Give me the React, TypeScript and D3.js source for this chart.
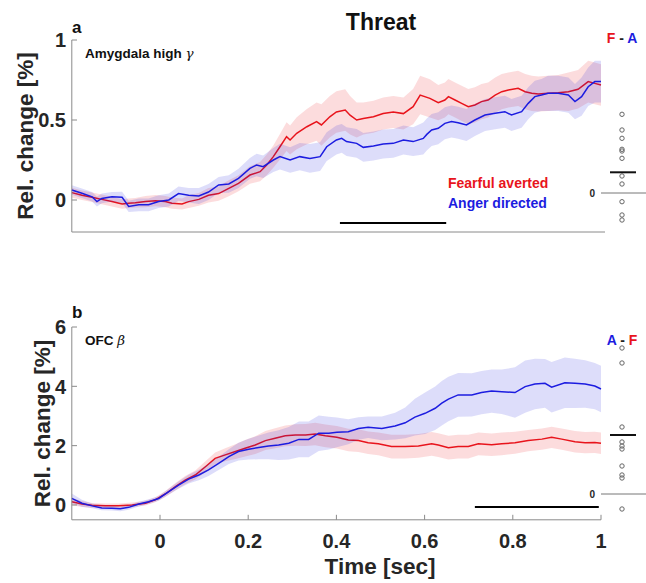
import React from 'react';
import * as d3 from 'd3';

// [time (s), mean (%), half-width of shaded band (%)]
const amyFearful: [number, number, number][] = [
  [-0.2, 0.046, 0.03], [-0.177, 0.03, 0.03], [-0.154, 0.017, 0.03], [-0.132, 0.004, 0.03],
  [-0.109, -0.01, 0.03], [-0.086, -0.025, 0.03], [-0.071, -0.02, 0.03], [-0.056, -0.017, 0.03],
  [-0.033, -0.01, 0.035], [-0.01, -0.004, 0.035], [0.012, -0.01, 0.035], [0.027, -0.02, 0.035],
  [0.05, -0.025, 0.035], [0.065, -0.01, 0.04], [0.088, 0.004, 0.04], [0.11, 0.03, 0.045],
  [0.133, 0.04, 0.045], [0.156, 0.073, 0.05], [0.178, 0.104, 0.05], [0.204, 0.156, 0.055],
  [0.227, 0.177, 0.06], [0.242, 0.219, 0.065], [0.257, 0.271, 0.07], [0.272, 0.333, 0.08],
  [0.287, 0.396, 0.09], [0.295, 0.375, 0.09], [0.31, 0.417, 0.1], [0.333, 0.458, 0.11],
  [0.355, 0.49, 0.12], [0.366, 0.469, 0.13], [0.385, 0.52, 0.13], [0.4, 0.55, 0.13],
  [0.42, 0.5625, 0.13], [0.431, 0.53, 0.12], [0.446, 0.5, 0.11], [0.461, 0.51, 0.1],
  [0.484, 0.52, 0.1], [0.506, 0.54, 0.1], [0.529, 0.55, 0.1], [0.552, 0.54, 0.1],
  [0.574, 0.583, 0.11], [0.59, 0.656, 0.12], [0.612, 0.635, 0.12], [0.631, 0.608, 0.11],
  [0.646, 0.625, 0.11], [0.654, 0.646, 0.11], [0.669, 0.625, 0.11], [0.684, 0.604, 0.11],
  [0.699, 0.583, 0.11], [0.714, 0.594, 0.11], [0.729, 0.615, 0.11], [0.744, 0.625, 0.11],
  [0.76, 0.656, 0.11], [0.775, 0.677, 0.11], [0.79, 0.6875, 0.11], [0.812, 0.698, 0.11],
  [0.828, 0.677, 0.11], [0.843, 0.667, 0.11], [0.858, 0.6625, 0.11], [0.88, 0.667, 0.11],
  [0.903, 0.671, 0.11], [0.926, 0.677, 0.12], [0.948, 0.692, 0.12], [0.971, 0.74, 0.13],
  [0.986, 0.729, 0.13], [1.0, 0.719, 0.13],
];

const amyAnger: [number, number, number][] = [
  [-0.2, 0.0625, 0.03], [-0.177, 0.042, 0.03], [-0.154, 0.02, 0.03], [-0.143, -0.01, 0.03],
  [-0.132, 0.01, 0.03], [-0.109, 0.02, 0.03], [-0.086, 0.017, 0.035], [-0.071, -0.04, 0.035],
  [-0.048, -0.03, 0.04], [-0.026, -0.03, 0.04], [-0.003, -0.01, 0.04], [0.02, 0.0, 0.04],
  [0.042, 0.04, 0.045], [0.065, 0.03, 0.045], [0.088, 0.025, 0.05], [0.11, 0.05, 0.05],
  [0.133, 0.094, 0.05], [0.156, 0.1, 0.055], [0.178, 0.135, 0.06], [0.204, 0.198, 0.065],
  [0.219, 0.219, 0.07], [0.234, 0.208, 0.07], [0.257, 0.25, 0.075], [0.272, 0.271, 0.08],
  [0.295, 0.25, 0.08], [0.317, 0.271, 0.085], [0.34, 0.26, 0.09], [0.363, 0.271, 0.09],
  [0.378, 0.333, 0.09], [0.4, 0.375, 0.09], [0.412, 0.385, 0.09], [0.423, 0.365, 0.09],
  [0.446, 0.354, 0.09], [0.461, 0.329, 0.09], [0.484, 0.3375, 0.09], [0.506, 0.35, 0.09],
  [0.529, 0.354, 0.09], [0.552, 0.375, 0.09], [0.574, 0.365, 0.09], [0.597, 0.385, 0.1],
  [0.605, 0.41, 0.1], [0.616, 0.4375, 0.1], [0.631, 0.448, 0.1], [0.646, 0.479, 0.1],
  [0.661, 0.49, 0.1], [0.676, 0.483, 0.1], [0.695, 0.469, 0.1], [0.714, 0.5, 0.1],
  [0.737, 0.531, 0.1], [0.76, 0.542, 0.1], [0.782, 0.552, 0.1], [0.797, 0.531, 0.1],
  [0.82, 0.552, 0.1], [0.835, 0.604, 0.1], [0.85, 0.646, 0.1], [0.865, 0.656, 0.1],
  [0.88, 0.667, 0.11], [0.903, 0.667, 0.11], [0.926, 0.656, 0.11], [0.941, 0.615, 0.11],
  [0.956, 0.646, 0.12], [0.971, 0.708, 0.12], [0.986, 0.74, 0.13], [1.0, 0.74, 0.13],
];

const ofcFearful: [number, number, number][] = [
  [-0.2, 0.11, 0.12], [-0.177, 0.03, 0.1], [-0.154, -0.01, 0.08], [-0.124, -0.03, 0.08],
  [-0.094, -0.03, 0.08], [-0.063, 0.0, 0.08], [-0.033, 0.06, 0.08], [-0.011, 0.17, 0.08],
  [0.012, 0.37, 0.1], [0.035, 0.62, 0.12], [0.057, 0.84, 0.14], [0.08, 1.01, 0.15],
  [0.103, 1.29, 0.18], [0.125, 1.57, 0.2], [0.148, 1.69, 0.22], [0.171, 1.8, 0.25],
  [0.193, 1.91, 0.28], [0.216, 2.02, 0.3], [0.239, 2.17, 0.32], [0.261, 2.25, 0.34],
  [0.284, 2.33, 0.35], [0.307, 2.36, 0.36], [0.33, 2.36, 0.37], [0.352, 2.39, 0.38],
  [0.375, 2.33, 0.38], [0.401, 2.28, 0.38], [0.427, 2.19, 0.38], [0.45, 2.17, 0.38],
  [0.472, 2.1, 0.38], [0.495, 2.06, 0.38], [0.525, 1.97, 0.4], [0.556, 1.97, 0.4],
  [0.586, 1.99, 0.4], [0.616, 2.06, 0.4], [0.631, 2.02, 0.4], [0.654, 1.93, 0.4],
  [0.676, 1.97, 0.4], [0.699, 1.97, 0.4], [0.722, 2.06, 0.38], [0.752, 2.03, 0.38],
  [0.775, 2.06, 0.38], [0.805, 2.1, 0.37], [0.835, 2.17, 0.36], [0.866, 2.22, 0.36],
  [0.888, 2.28, 0.36], [0.911, 2.22, 0.36], [0.941, 2.13, 0.36], [0.964, 2.1, 0.36],
  [0.986, 2.11, 0.36], [1.0, 2.08, 0.36],
];

const ofcAnger: [number, number, number][] = [
  [-0.2, 0.22, 0.17], [-0.177, 0.06, 0.12], [-0.154, -0.03, 0.08], [-0.132, -0.1, 0.08],
  [-0.109, -0.11, 0.08], [-0.09, -0.13, 0.08], [-0.071, -0.08, 0.08], [-0.048, 0.03, 0.08],
  [-0.026, 0.11, 0.08], [-0.003, 0.22, 0.08], [0.02, 0.45, 0.1], [0.042, 0.67, 0.12],
  [0.065, 0.87, 0.15], [0.088, 1.01, 0.18], [0.11, 1.18, 0.2], [0.133, 1.4, 0.22],
  [0.156, 1.63, 0.25], [0.178, 1.8, 0.3], [0.201, 1.88, 0.35], [0.224, 1.94, 0.4],
  [0.246, 1.99, 0.45], [0.269, 2.02, 0.5], [0.292, 2.08, 0.55], [0.315, 2.21, 0.6],
  [0.337, 2.21, 0.6], [0.36, 2.42, 0.6], [0.383, 2.42, 0.55], [0.401, 2.45, 0.5],
  [0.427, 2.47, 0.42], [0.45, 2.58, 0.38], [0.472, 2.62, 0.36], [0.503, 2.58, 0.4],
  [0.533, 2.66, 0.45], [0.556, 2.77, 0.52], [0.578, 2.96, 0.62], [0.601, 3.09, 0.7],
  [0.624, 3.26, 0.73], [0.639, 3.43, 0.75], [0.654, 3.57, 0.75], [0.676, 3.71, 0.74],
  [0.707, 3.71, 0.73], [0.729, 3.79, 0.73], [0.752, 3.84, 0.73], [0.775, 3.82, 0.75],
  [0.805, 3.79, 0.85], [0.828, 3.99, 0.88], [0.85, 4.08, 0.85], [0.873, 4.1, 0.82],
  [0.888, 3.97, 0.85], [0.918, 4.12, 0.85], [0.941, 4.1, 0.83], [0.964, 4.08, 0.8],
  [0.986, 4.01, 0.78], [1.0, 3.91, 0.78],
];

// per-subject differences shown on the right
const amyDiffs = [0.787, 0.63, 0.547, 0.437, 0.42, 0.347, 0.17, 0.09, -0.087, -0.22, -0.27];
const amyDiffMean = 0.207;
const ofcDiffs = [1.46, 1.31, 0.67, 0.52, 0.48, 0.45, 0.28, 0.19, 0.16, -0.15];
const ofcDiffMean = 0.59;

const timeTicks = [0, 0.2, 0.4, 0.6, 0.8, 1];
const amyYTicks = [0, 0.5, 1];
const ofcYTicks = [0, 2, 4, 6];
const amySig: [number, number] = [0.408, 0.649];
const ofcSig: [number, number] = [0.714, 0.995];

const RED = '#e8141c';
const BLUE = '#1c1ce0';
const AXIS = '#8a8a8a';
const TXT = '#262626';
const FONT = 'Liberation Sans, Arial, sans-serif';

const x = d3.scaleLinear().domain([-0.2, 1]).range([71.8, 601]);

type Row = [number, number, number];

function Series({ data, color, y }: { data: Row[]; color: string; y: d3.ScaleLinear<number, number> }) {
  const area = d3.area<Row>().x(d => x(d[0])).y0(d => y(d[1] - d[2])).y1(d => y(d[1] + d[2]));
  const line = d3.line<Row>().x(d => x(d[0])).y(d => y(d[1]));
  return (
    <g>
      <path d={area(data) || ''} fill={color} fillOpacity={0.15} stroke="none" />
      <path d={line(data) || ''} fill="none" stroke={color} strokeWidth={1.5} />
    </g>
  );
}

function DiffColumn({ values, mean, scale, labelY, first, second }: {
  values: number[]; mean: number; scale: d3.ScaleLinear<number, number>; labelY: number;
  first: [string, string]; second: [string, string];
}) {
  const cx = 622;
  return (
    <g fontFamily={FONT}>
      <line x1={601} x2={646} y1={scale(0)} y2={scale(0)} stroke="#777" strokeWidth={1} />
      <text x={595} y={scale(0)} dy="0.35em" textAnchor="end" fontSize={10} fontWeight="bold" fill={TXT}>0</text>
      {values.map((v, i) => (
        <circle key={i} cx={cx} cy={scale(v)} r={2.2} fill="none" stroke="#666" strokeWidth={1} />
      ))}
      <line x1={610} x2={636} y1={scale(mean)} y2={scale(mean)} stroke="#111" strokeWidth={2} />
      <text x={cx} y={labelY} textAnchor="middle" fontSize={14} fontWeight="bold">
        <tspan fill={first[1]}>{first[0]}</tspan>
        <tspan fill="#222"> - </tspan>
        <tspan fill={second[1]}>{second[0]}</tspan>
      </text>
    </g>
  );
}

export default function App() {
  const yA = d3.scaleLinear().domain([-0.2, 1]).range([232, 40]);
  const yB = d3.scaleLinear().domain([-0.5, 6]).range([519.8, 327]);
  const dA = d3.scaleLinear().domain([0, 1]).range([193, 93]);
  const dB = d3.scaleLinear().domain([0, 1]).range([494, 394]);

  return (
    <svg width={646} height={583} style={{ position: 'absolute', left: 0, top: 0, background: '#fff' }}>
      <rect width={646} height={583} fill="#fff" />
      {/* Title */}
      <text x={381} y={30} textAnchor="middle" fontFamily={FONT} fontSize={23} fontWeight="bold" fill="#111">Threat</text>

      {/* Panel a */}
      <text x={72} y={33} fontFamily={FONT} fontSize={17} fontWeight="bold" fill="#111">a</text>
      <Series data={amyFearful} color={RED} y={yA} />
      <Series data={amyAnger} color={BLUE} y={yA} />
      <line x1={71.8} x2={71.8} y1={yA(-0.2)} y2={yA(1)} stroke={AXIS} />
      <line x1={71.8} x2={605} y1={yA(-0.2)} y2={yA(-0.2)} stroke={AXIS} />
      {amyYTicks.map(t => (
        <g key={t}>
          <line x1={71.8} x2={77} y1={yA(t)} y2={yA(t)} stroke={AXIS} />
          <text x={66} y={yA(t)} dy="0.36em" textAnchor="end" fontFamily={FONT} fontSize={20} fontWeight="bold" fill={TXT}>{t}</text>
        </g>
      ))}
      <text transform={`translate(33,${(yA(-0.2) + yA(1)) / 2}) rotate(-90)`} textAnchor="middle" fontFamily={FONT} fontSize={22.5} fontWeight="bold" fill={TXT}>Rel. change [%]</text>
      <text x={85} y={58} fontFamily={FONT} fontSize={13.5} fontWeight="bold" fill="#111">
        Amygdala high <tspan fontFamily="DejaVu Serif, serif" fontStyle="italic" fontWeight="normal">γ</tspan>
      </text>
      <line x1={x(amySig[0])} x2={x(amySig[1])} y1={223} y2={223} stroke="#000" strokeWidth={2} />
      <text x={448} y={188} fontFamily={FONT} fontSize={14} fontWeight="bold" fill={RED}>Fearful averted</text>
      <text x={448} y={208} fontFamily={FONT} fontSize={14} fontWeight="bold" fill={BLUE}>Anger directed</text>
      <DiffColumn values={amyDiffs} mean={amyDiffMean} scale={dA} labelY={43} first={['F', RED]} second={['A', BLUE]} />

      {/* Panel b */}
      <text x={72} y={318} fontFamily={FONT} fontSize={17} fontWeight="bold" fill="#111">b</text>
      <Series data={ofcFearful} color={RED} y={yB} />
      <Series data={ofcAnger} color={BLUE} y={yB} />
      <line x1={71.8} x2={71.8} y1={yB(-0.5)} y2={yB(6)} stroke={AXIS} />
      <line x1={71.8} x2={601} y1={yB(-0.5)} y2={yB(-0.5)} stroke={AXIS} />
      {ofcYTicks.map(t => (
        <g key={t}>
          <line x1={71.8} x2={77} y1={yB(t)} y2={yB(t)} stroke={AXIS} />
          <text x={66} y={yB(t)} dy="0.36em" textAnchor="end" fontFamily={FONT} fontSize={20} fontWeight="bold" fill={TXT}>{t}</text>
        </g>
      ))}
      {timeTicks.map(t => (
        <g key={t}>
          <line x1={x(t)} x2={x(t)} y1={yB(-0.5)} y2={yB(-0.5) - 5} stroke={AXIS} />
          <text x={x(t)} y={548} textAnchor="middle" fontFamily={FONT} fontSize={20} fontWeight="bold" fill={TXT}>{t}</text>
        </g>
      ))}
      <text x={380} y={574} textAnchor="middle" fontFamily={FONT} fontSize={22.5} fontWeight="bold" fill={TXT}>Time [sec]</text>
      <text transform={`translate(50,${(yB(-0.5) + yB(6)) / 2}) rotate(-90)`} textAnchor="middle" fontFamily={FONT} fontSize={22.5} fontWeight="bold" fill={TXT}>Rel. change [%]</text>
      <text x={85} y={345} fontFamily={FONT} fontSize={13.5} fontWeight="bold" fill="#111">
        OFC <tspan fontFamily="DejaVu Serif, serif" fontStyle="italic" fontWeight="normal">β</tspan>
      </text>
      <line x1={x(ofcSig[0])} x2={x(ofcSig[1])} y1={yB(-0.07)} y2={yB(-0.07)} stroke="#000" strokeWidth={2} />
      <DiffColumn values={ofcDiffs} mean={ofcDiffMean} scale={dB} labelY={345} first={['A', BLUE]} second={['F', RED]} />
    </svg>
  );
}
